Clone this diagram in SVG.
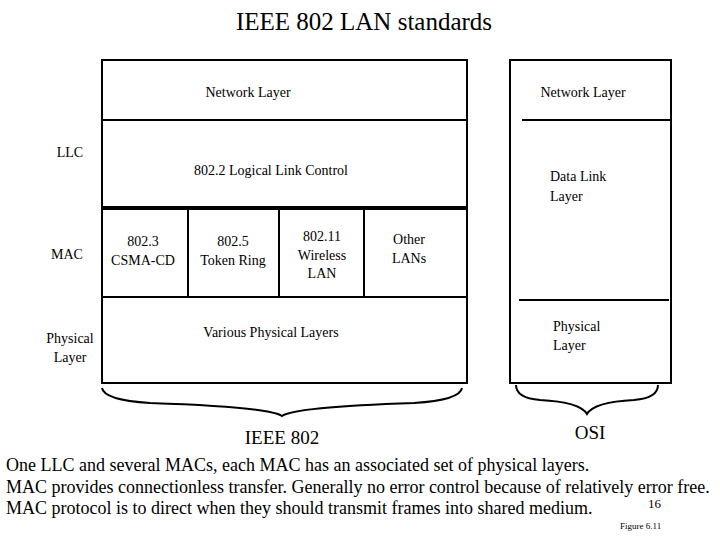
<svg xmlns="http://www.w3.org/2000/svg" width="720" height="540" viewBox="0 0 720 540" font-family="Liberation Serif, Times New Roman, DejaVu Serif, serif">
<style>
text{font-family:"Liberation Serif","Times New Roman","DejaVu Serif",serif;fill:#000}
.s{font-size:14px}
.box{fill:#fff;stroke:#000;stroke-width:2}
.ln{stroke:#000;stroke-width:2;fill:none}
</style>
<rect width="720" height="540" fill="#fff"/>
<text x="364" y="30" font-size="25" text-anchor="middle">IEEE 802 LAN standards</text>
<g id="ieee802">
<rect class="box" x="102" y="60" width="365" height="323"/>
<line class="ln" x1="102" y1="120" x2="467" y2="120"/>
<line x1="102" y1="208" x2="467" y2="208" stroke="#000" stroke-width="4"/>
<line class="ln" x1="102" y1="297" x2="467" y2="297"/>
<line class="ln" x1="188" y1="208" x2="188" y2="297"/>
<line class="ln" x1="279" y1="208" x2="279" y2="297"/>
<line class="ln" x1="364" y1="208" x2="364" y2="297"/>
<text class="s" x="248" y="97" text-anchor="middle">Network Layer</text>
<text class="s" x="271" y="175" text-anchor="middle">802.2  Logical Link Control</text>
<text class="s" x="143" y="246" text-anchor="middle">802.3</text>
<text class="s" x="143" y="265" text-anchor="middle">CSMA-CD</text>
<text class="s" x="233" y="246" text-anchor="middle">802.5</text>
<text class="s" x="233" y="265" text-anchor="middle">Token Ring</text>
<text class="s" x="322" y="241" text-anchor="middle">802.11</text>
<text class="s" x="322" y="260" text-anchor="middle">Wireless</text>
<text class="s" x="322" y="278" text-anchor="middle">LAN</text>
<text class="s" x="409" y="244" text-anchor="middle">Other</text>
<text class="s" x="409" y="263" text-anchor="middle">LANs</text>
<text class="s" x="271" y="337" text-anchor="middle">Various Physical Layers</text>
</g>
<g id="osi">
<rect class="box" x="510" y="60" width="161" height="323"/>
<line class="ln" x1="522" y1="120" x2="670" y2="120"/>
<line class="ln" x1="519" y1="300" x2="669" y2="300"/>
<text class="s" x="583" y="97" text-anchor="middle">Network Layer</text>
<text class="s" x="550" y="181">Data Link</text>
<text class="s" x="550" y="201">Layer</text>
<text class="s" x="553" y="331">Physical</text>
<text class="s" x="553" y="350">Layer</text>
</g>
<g id="sidelabels">
<text class="s" x="70" y="157" text-anchor="middle">LLC</text>
<text class="s" x="67" y="259" text-anchor="middle">MAC</text>
<text class="s" x="70" y="343" text-anchor="middle">Physical</text>
<text class="s" x="70" y="362" text-anchor="middle">Layer</text>
</g>
<g id="connectors">
<path class="ln" stroke-width="3" d="M102,388 Q104,400 150,403 Q270,407 282,416 Q294,407 414,403 Q460,400 462,388"/>
<path class="ln" stroke-width="3" d="M516,385 Q516,398 540,400 Q580,402 587,414 Q594,402 634,400 Q658,398 658,385"/>
</g>
<text x="282" y="444" font-size="19" text-anchor="middle">IEEE 802</text>
<text x="590" y="439" font-size="19" text-anchor="middle">OSI</text>
<text x="6" y="471" font-size="18">One LLC and several MACs, each MAC has an associated set of  physical layers.</text>
<text x="6" y="493" font-size="18">MAC provides connectionless transfer.  Generally no error control because of relatively error free.</text>
<text x="6" y="514" font-size="18">MAC protocol is to direct when they should transmit frames into shared medium.</text>
<text x="648" y="508" font-size="13">16</text>
<text x="620" y="529" font-size="9">Figure 6.11</text>
</svg>
